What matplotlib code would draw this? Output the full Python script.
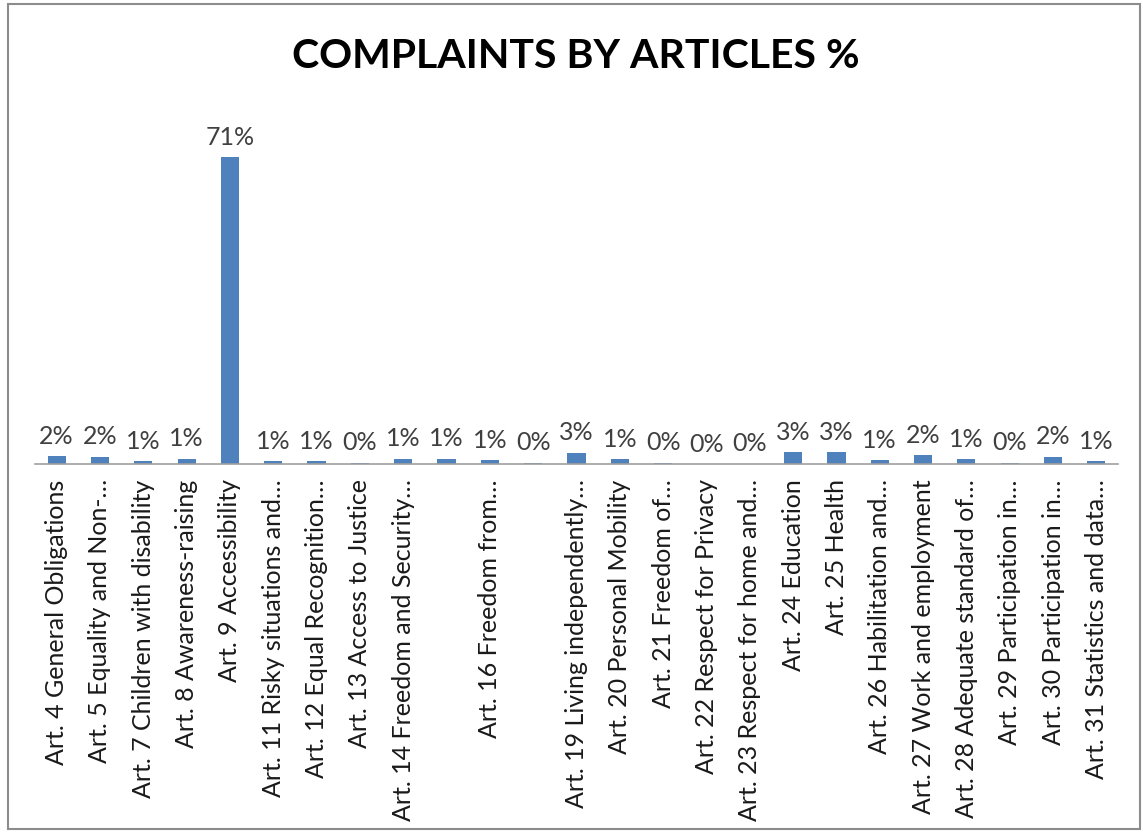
import matplotlib
matplotlib.use("Agg")
import matplotlib.pyplot as plt
from matplotlib.patches import Rectangle

categories = [
    "Art. 4 General Obligations",
    "Art. 5 Equality and Non-…",
    "Art. 7 Children with disability",
    "Art. 8 Awareness-raising",
    "Art. 9 Accessibility",
    "Art. 11 Risky situations and…",
    "Art. 12 Equal Recognition…",
    "Art. 13 Access to Justice",
    "Art. 14 Freedom and Security…",
    "",
    "Art. 16 Freedom from…",
    "",
    "Art. 19 Living independently…",
    "Art. 20 Personal Mobility",
    "Art. 21 Freedom of…",
    "Art. 22 Respect for Privacy",
    "Art. 23 Respect for home and…",
    "Art. 24 Education",
    "Art. 25 Health",
    "Art. 26 Habilitation and…",
    "Art. 27 Work and employment",
    "Art. 28 Adequate standard of…",
    "Art. 29 Participation in…",
    "Art. 30 Participation in…",
    "Art. 31 Statistics and data…",
]
values = [1.8, 1.7, 0.7, 1.2, 71.0, 0.6, 0.6, 0.3, 1.2, 1.2, 0.9, 0.3,
          2.6, 1.1, 0.3, 0.0, 0.1, 2.8, 2.8, 0.9, 2.0, 1.1, 0.3, 1.7, 0.6]
value_labels = ["2%", "2%", "1%", "1%", "71%", "1%", "1%", "0%", "1%", "1%",
                "1%", "0%", "3%", "1%", "0%", "0%", "0%", "3%", "3%", "1%",
                "2%", "1%", "0%", "2%", "1%"]
title = "COMPLAINTS BY ARTICLES %"

W, H = 1143, 832
fig = plt.figure(figsize=(W / 100, H / 100), dpi=100)
fig.patch.set_facecolor("white")

# outer chart border
fig.patches.append(Rectangle((8 / W, 3 / H), (1140 - 8) / W, (828 - 3) / H,
                             transform=fig.transFigure, fill=False,
                             edgecolor="#8c8c8c", linewidth=1.5))

left, right = 35 / W, 1118 / W
bottom, top = 1 - 464 / H, 1 - 101 / H
ax = fig.add_axes([left, bottom, right - left, top - bottom])

x = list(range(len(values)))
ax.bar(x, values, width=0.42, color="#4F81BD")
ax.set_xlim(-0.5, len(values) - 0.5)
ax.set_ylim(0, 84)

for xi, v, lab in zip(x, values, value_labels):
    ax.annotate(lab, (xi, v), xytext=(0, 6), textcoords="offset points",
                ha="center", va="bottom", fontsize=18, color="#404040",
                family="Lato")

ax.set_xticks(x)
ax.set_xticklabels(categories, rotation=90, ha="center", va="top",
                   fontsize=18, color="#1a1a1a", family="Lato")
ax.tick_params(axis="x", length=0, pad=11)
ax.set_yticks([])
for s in ["left", "right", "top"]:
    ax.spines[s].set_visible(False)
ax.spines["bottom"].set_color("#a0a0a0")
ax.spines["bottom"].set_linewidth(1.2)
ax.set_facecolor("none")

fig.text(576 / W, 1 - 56 / H, title, ha="center", va="center",
         fontsize=29.5, fontweight="bold", family="Lato", color="#000000")

fig.savefig("out.png", dpi=100, facecolor="white")
